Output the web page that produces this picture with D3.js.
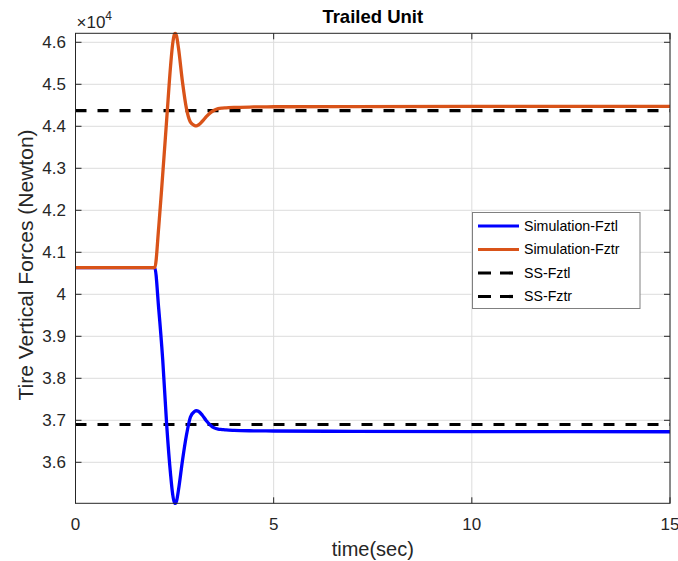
<!DOCTYPE html>
<html>
<head>
<meta charset="utf-8">
<script src="https://cdn.jsdelivr.net/npm/d3@7"></script>
<style>
  html, body { margin: 0; padding: 0; background: #fff; }
  svg { display: block; font-family: "Liberation Sans", Arial, Helvetica, sans-serif; }
</style>
</head>
<body>
<svg id="chart" width="678" height="561"></svg>
<script>
// Time samples (s) for the simulated tire forces
const time = [0, 2.0, 2.1, 2.2, 2.3, 2.4, 2.45, 2.5, 2.52, 2.55, 2.6, 2.7, 2.8, 2.9, 3.0, 3.05, 3.1, 3.2, 3.3, 3.4, 3.5, 3.6, 3.7, 3.8, 4.0, 4.5, 5, 7, 10, 15];
// Left trailed tire vertical force (N)
const fztl = [40633, 40633, 39650, 38450, 36905, 35700, 35250, 35030, 35024, 35080, 35350, 36050, 36650, 37080, 37210, 37228, 37215, 37120, 36990, 36890, 36820, 36790, 36780, 36770, 36760, 36750, 36745, 36738, 36732, 36728];
// Right trailed tire vertical force (N)
const fztr = [40633, 40633, 41600, 42850, 44150, 45450, 45950, 46200, 46214, 46150, 45850, 45050, 44420, 44100, 44020, 44010, 44030, 44120, 44230, 44320, 44380, 44420, 44435, 44440, 44450, 44460, 44465, 44470, 44472, 44475];
// Steady-state values (N)
const ssFztl = 36900;
const ssFztr = 44375;
const xTicks = [0, 5, 10, 15];
const yTicks = [36000, 37000, 38000, 39000, 40000, 41000, 42000, 43000, 44000, 45000, 46000];
const legendLabels = ["Simulation-Fztl", "Simulation-Fztr", "SS-Fztl", "SS-Fztr"];

const svg = d3.select("#chart");
const m = { left: 75.5, right: 670, top: 33.3, bottom: 503.3 };
const axisColor = "#262626";

const x = d3.scaleLinear().domain([0, 15]).range([m.left, m.right]);
const allVals = fztl.concat(fztr);
const y = d3.scaleLinear().domain(d3.extent(allVals)).range([m.bottom, m.top]);

// grid
const grid = svg.append("g");
grid.selectAll(".gx").data(xTicks).join("line")
  .attr("x1", d => x(d)).attr("x2", d => x(d))
  .attr("y1", m.top).attr("y2", m.bottom)
  .attr("stroke", "#dcdcdc").attr("stroke-width", 1);
grid.selectAll(".gy").data(yTicks).join("line")
  .attr("x1", m.left).attr("x2", m.right)
  .attr("y1", d => y(d)).attr("y2", d => y(d))
  .attr("stroke", "#dcdcdc").attr("stroke-width", 1);

// clip for data
svg.append("clipPath").attr("id", "clip").append("rect")
  .attr("x", m.left).attr("y", m.top - 2).attr("width", m.right - m.left).attr("height", m.bottom - m.top + 4);

const series = time.map((t, i) => ({ t, l: fztl[i], r: fztr[i] }));
const plot = svg.append("g").attr("clip-path", "url(#clip)");

// steady-state dashed lines
[ssFztl, ssFztr].forEach(v => {
  plot.append("line")
    .attr("x1", x(0)).attr("x2", x(15))
    .attr("y1", y(v)).attr("y2", y(v))
    .attr("stroke", "#000").attr("stroke-width", 3.2)
    .attr("stroke-dasharray", "11 11");
});

const lineL = d3.line().x(d => x(d.t)).y(d => y(d.l)).curve(d3.curveMonotoneX);
const lineR = d3.line().x(d => x(d.t)).y(d => y(d.r)).curve(d3.curveMonotoneX);

plot.append("path").datum(series).attr("d", lineL)
  .attr("fill", "none").attr("stroke", "#0000ff").attr("stroke-width", 3.3).attr("stroke-linejoin", "round");
plot.append("path").datum(series).attr("d", lineR)
  .attr("fill", "none").attr("stroke", "#D95319").attr("stroke-width", 3.3).attr("stroke-linejoin", "round");

// axes box
const ax = svg.append("g");
ax.append("rect").attr("x", m.left).attr("y", m.top)
  .attr("width", m.right - m.left).attr("height", m.bottom - m.top)
  .attr("fill", "none").attr("stroke", axisColor).attr("stroke-width", 1);

const tickLen = 6;
const yFmt = d => { const s = d3.format(".1f")(d / 10000); return s.endsWith(".0") ? s.slice(0, -2) : s; };
// x ticks (bottom and top, inward)
xTicks.forEach(d => {
  ax.append("line").attr("x1", x(d)).attr("x2", x(d)).attr("y1", m.bottom).attr("y2", m.bottom - tickLen).attr("stroke", axisColor);
  ax.append("line").attr("x1", x(d)).attr("x2", x(d)).attr("y1", m.top).attr("y2", m.top + tickLen).attr("stroke", axisColor);
  ax.append("text").attr("x", x(d)).attr("y", m.bottom + 27)
    .attr("text-anchor", "middle").attr("font-size", 17).attr("fill", axisColor).text(d);
});
// y ticks (left and right, inward)
yTicks.forEach(d => {
  ax.append("line").attr("x1", m.left).attr("x2", m.left + tickLen).attr("y1", y(d)).attr("y2", y(d)).attr("stroke", axisColor);
  ax.append("line").attr("x1", m.right).attr("x2", m.right - tickLen).attr("y1", y(d)).attr("y2", y(d)).attr("stroke", axisColor);
  ax.append("text").attr("x", m.left - 9.5).attr("y", y(d)).attr("dy", "0.35em")
    .attr("text-anchor", "end").attr("font-size", 17).attr("fill", axisColor).text(yFmt(d));
});

// exponent label
const ex = ax.append("text").attr("x", m.left + 1).attr("y", 28).attr("font-size", 17).attr("fill", axisColor);
ex.append("tspan").text("\u00d7");
ex.append("tspan").text("10");
ex.append("tspan").attr("dy", -8).attr("font-size", 12).text("4");

// title and axis labels
svg.append("text").attr("x", (m.left + m.right) / 2).attr("y", 23.3)
  .attr("text-anchor", "middle").attr("font-size", 18.5).attr("font-weight", "bold").attr("fill", "#000").text("Trailed Unit");
svg.append("text").attr("x", (m.left + m.right) / 2).attr("y", 556)
  .attr("text-anchor", "middle").attr("font-size", 20).attr("fill", axisColor).text("time(sec)");
svg.append("text").attr("transform", `translate(33, 265) rotate(-90)`)
  .attr("text-anchor", "middle").attr("font-size", 21).attr("fill", axisColor).text("Tire Vertical Forces (Newton)");

// legend
const lg = svg.append("g");
lg.append("rect").attr("x", 472.5).attr("y", 212.5).attr("width", 167.5).attr("height", 96)
  .attr("fill", "#fff").attr("stroke", "#808080").attr("stroke-width", 1);
const rowsY = [226, 249.5, 273, 296.5];
const styles = [
  { c: "#0000ff", dash: null },
  { c: "#D95319", dash: null },
  { c: "#000", dash: "13 9" },
  { c: "#000", dash: "13 9" }
];
legendLabels.forEach((lab, i) => {
  const s = styles[i];
  const ln = lg.append("line").attr("x1", 478).attr("x2", 519).attr("y1", rowsY[i]).attr("y2", rowsY[i])
    .attr("stroke", s.c).attr("stroke-width", 3.2);
  if (s.dash) ln.attr("stroke-dasharray", s.dash);
  lg.append("text").attr("x", 524).attr("y", rowsY[i]).attr("dy", "0.35em")
    .attr("font-size", 14.2).attr("fill", "#000").text(lab);
});
</script>
</body>
</html>
